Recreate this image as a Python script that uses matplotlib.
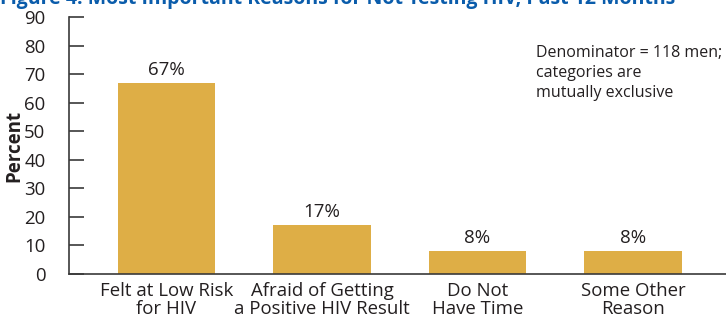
import matplotlib
matplotlib.use('Agg')
import matplotlib.pyplot as plt

plt.rcParams['font.family'] = ['Open Sans', 'DejaVu Sans']

# data
reasons = ['Felt at Low Risk\nfor HIV', 'Afraid of Getting\na Positive HIV Result',
           'Do Not\nHave Time', 'Some Other\nReason']
percent = [67, 17, 8, 8]
yticks = list(range(0, 91, 10))

bar_color = '#DEAE46'
text_color = '#231F20'
axis_color = '#3A3A3A'

fig = plt.figure(figsize=(7.26, 3.22), dpi=100)
ax = fig.add_axes([69 / 726, 48 / 322, 657 / 726, 257 / 322])

x = range(len(reasons))
bars = ax.bar(x, percent, width=0.625, color=bar_color, edgecolor='none')

for b, v in zip(bars, percent):
    ax.annotate(f'{v}%', (b.get_x() + b.get_width() / 2, v), xytext=(0, 3),
                textcoords='offset points', ha='center', va='bottom',
                fontsize=13.5, color=text_color)

ax.set_xlim(-0.627, 3.598)
ax.set_ylim(0, 90)
ax.set_yticks(yticks)
ax.set_xticks(list(x))
ax.set_xticklabels(reasons, fontsize=13.4, color=text_color, linespacing=1.0)
ax.tick_params(axis='x', length=0, pad=6)
ax.tick_params(axis='y', direction='in', length=11, width=1.2, color=axis_color,
               labelsize=13.4, labelcolor=text_color, pad=17)

for side in ['top', 'right']:
    ax.spines[side].set_visible(False)
for side in ['left', 'bottom']:
    ax.spines[side].set_color(axis_color)
    ax.spines[side].set_linewidth(1.2)

ax.set_ylabel('Percent', fontsize=13.5, fontweight='bold', color=text_color)
ax.yaxis.set_label_coords(-45 / 657, 0.5)

ax.text(536 / 726, 1 - 45 / 322, 'Denominator = 118 men;\ncategories are\nmutually exclusive',
        transform=fig.transFigure, ha='left', va='top', fontsize=11.5,
        color=text_color, linespacing=1.35)

# title is cut off at the top of the picture, as in the source
fig.text(0, 1 - 4 / 322,
         'Figure 4. Most Important Reasons for Not Testing HIV, Past 12 Months',
         ha='left', va='baseline', fontsize=14, fontweight='bold', color='#0A5CAB')

fig.savefig('out.png', dpi=100)
